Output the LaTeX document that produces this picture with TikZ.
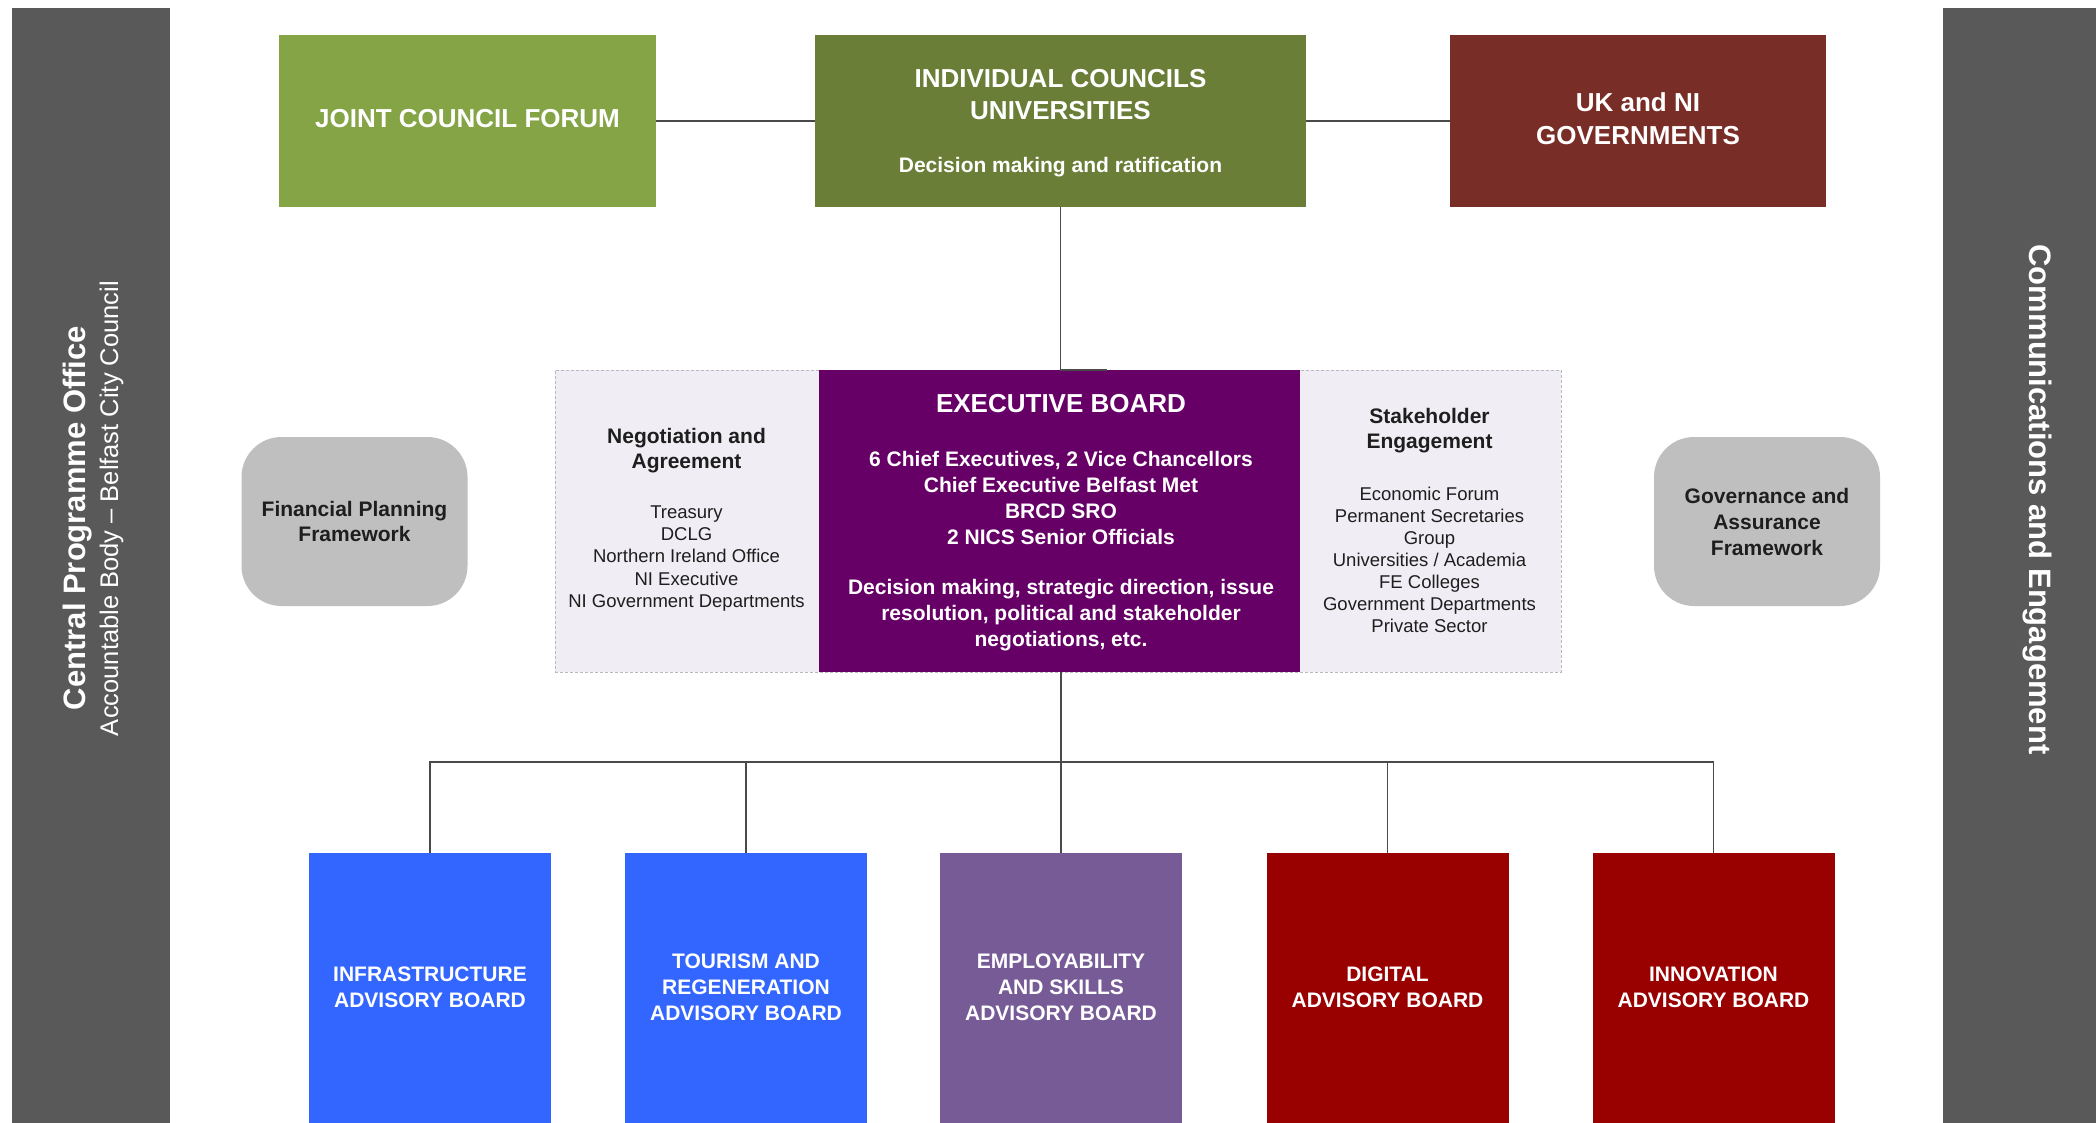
\documentclass[tikz,border=0pt]{standalone}
\usepackage{fontspec}
\setmainfont{Liberation Sans}

\definecolor{barGray}{HTML}{595959}
\definecolor{forumGreen}{HTML}{85A446}
\definecolor{councilGreen}{HTML}{6A7E37}
\definecolor{govRed}{HTML}{792D27}
\definecolor{execPurple}{HTML}{660066}
\definecolor{panelLilac}{HTML}{F0EEF4}
\definecolor{panelEdge}{HTML}{B8B8BE}
\definecolor{frameGray}{HTML}{BFBFBF}
\definecolor{advBlue}{HTML}{3366FF}
\definecolor{advLavender}{HTML}{765B97}
\definecolor{advRed}{HTML}{990000}
\definecolor{lineGray}{HTML}{4A4A4A}
\definecolor{inkDark}{HTML}{1E1E1E}

\begin{document}
\begin{tikzpicture}[x=1pt, y=-1pt,
  block/.style={draw=none, inner sep=0pt, outer sep=0pt},
  label/.style={inner sep=0pt, outer sep=0pt, align=center},
  whitehead/.style={label, text=white, font={\fontsize{26}{32}\selectfont\bfseries}},
  whitebody/.style={label, text=white, font={\fontsize{21}{26}\selectfont\bfseries}},
  darkhead/.style={label, text=inkDark, font={\fontsize{21}{25}\selectfont\bfseries}},
  darklist/.style={label, text=inkDark, font={\fontsize{18.5}{22.2}\selectfont}},
  advbox/.style={block, minimum width=242pt, minimum height=282pt},
  frame/.style={block, fill=frameGray, rounded corners=40pt, minimum width=226pt, minimum height=169pt},
  conn/.style={draw=lineGray, line width=1.5pt}
]
\useasboundingbox (0,0) rectangle (2096,1123);
\fill[white] (0,0) rectangle (2096,1123);

% side bars
\fill[barGray] (12,8) rectangle (170,1130);
\fill[barGray] (1943,8) rectangle (2110,1130);
\node[anchor=base, rotate=90, inner sep=0pt, text=white,
      font={\fontsize{31}{36}\selectfont\bfseries}] (cpo) at (85,518) {Central Programme Office};
\node[anchor=base, rotate=90, inner sep=0pt, text=white,
      font={\fontsize{25.5}{30}\selectfont}] (accbody) at (118,508.5) {Accountable Body -- Belfast City Council};
\node[anchor=base, rotate=-90, inner sep=0pt, text=white,
      font={\fontsize{31}{36}\selectfont\bfseries}] (comms) at (2029,499.5) {Communications and Engagement};

% top row
\node[block, fill=forumGreen, minimum width=377pt, minimum height=172pt] (jcf) at (467.5,121) {};
\node[block, fill=councilGreen, minimum width=491pt, minimum height=172pt] (ic) at (1060.5,121) {};
\node[block, fill=govRed, minimum width=376pt, minimum height=172pt] (uk) at (1638,121) {};
\node[whitehead] (jcftext) at (467.5,119) {JOINT COUNCIL FORUM};
\node[whitehead] (ictext) at (1060.5,95) {INDIVIDUAL COUNCILS\\UNIVERSITIES};
\node[whitebody] (icsub) at (1060.5,167) {Decision making and ratification};
\node[whitehead, font={\fontsize{26}{33}\selectfont\bfseries}] (uktext) at (1638,118.5) {UK and NI\\GOVERNMENTS};

% executive board with its two side panels
\node[block, fill=panelLilac, draw=panelEdge, dash pattern=on 3pt off 2pt, line width=1pt,
      minimum width=1006pt, minimum height=302pt] (panel) at (1058,521) {};
\node[block, fill=execPurple, minimum width=481pt, minimum height=302pt] (exec) at (1059.5,521) {};
\node[whitehead] (exectitle) at (1061,404) {EXECUTIVE BOARD};
\node[whitebody] (execmembers) at (1061,497.5) {6 Chief Executives, 2 Vice Chancellors\\Chief Executive Belfast Met\\BRCD SRO\\2 NICS Senior Officials};
\node[whitebody] (execremit) at (1061,615.5) {Decision making, strategic direction, issue\\resolution, political and stakeholder\\negotiations, etc.};

\node[darkhead] (neghead) at (686.5,451) {Negotiation and\\Agreement};
\node[darklist] (neglist) at (686.5,558.5) {Treasury\\DCLG\\Northern Ireland Office\\NI Executive\\NI Government Departments};
\node[darkhead] (stkhead) at (1429.5,430.5) {Stakeholder\\Engagement};
\node[darklist, font={\fontsize{18.5}{22}\selectfont}] (stklist) at (1429.5,560) {Economic Forum\\Permanent Secretaries\\Group\\Universities / Academia\\FE Colleges\\Government Departments\\Private Sector};

% frameworks
\node[frame] (finframe) at (354.5,521.5) {};
\node[darkhead] (fintext) at (354.5,521.5) {Financial Planning\\Framework};
\node[frame] (govframe) at (1767,521.5) {};
\node[darkhead, font={\fontsize{21}{26}\selectfont\bfseries}] (govtext) at (1767,521.5) {Governance and\\Assurance\\Framework};

% advisory boards
\node[advbox, fill=advBlue] (ab1) at (430,994) {};
\node[advbox, fill=advBlue] (ab2) at (746,994) {};
\node[advbox, fill=advLavender] (ab3) at (1061,994) {};
\node[advbox, fill=advRed] (ab4) at (1387.5,994) {};
\node[advbox, fill=advRed] (ab5) at (1713.5,994) {};
\node[whitebody] (ab1text) at (430,987) {INFRASTRUCTURE\\ADVISORY BOARD};
\node[whitebody] (ab2text) at (746,987) {TOURISM AND\\REGENERATION\\ADVISORY BOARD};
\node[whitebody] (ab3text) at (1061,987) {EMPLOYABILITY\\AND SKILLS\\ADVISORY BOARD};
\node[whitebody] (ab4text) at (1387.5,987) {DIGITAL\\ADVISORY BOARD};
\node[whitebody] (ab5text) at (1713.5,987) {INNOVATION\\ADVISORY BOARD};

% connectors
\draw[conn] (jcf.east) -- (ic.west);
\draw[conn] (ic.east) -- (uk.west);
\draw[conn, line width=1.3pt] (ic.south) -- (ic.south |- exec.north) -- ++(46,0);
\coordinate (bus) at (1061,762);
\draw[conn, line width=1.3pt] (exec.south -| ab3.north) -- (ab3.north);
\draw[conn, line width=1.3pt] (ab1.north) |- (bus) -| (ab5.north);
\draw[conn, line width=1.3pt] (ab2.north) -- (ab2.north |- bus);
\draw[conn, line width=1.3pt] (ab4.north) -- (ab4.north |- bus);
\end{tikzpicture}
\end{document}
